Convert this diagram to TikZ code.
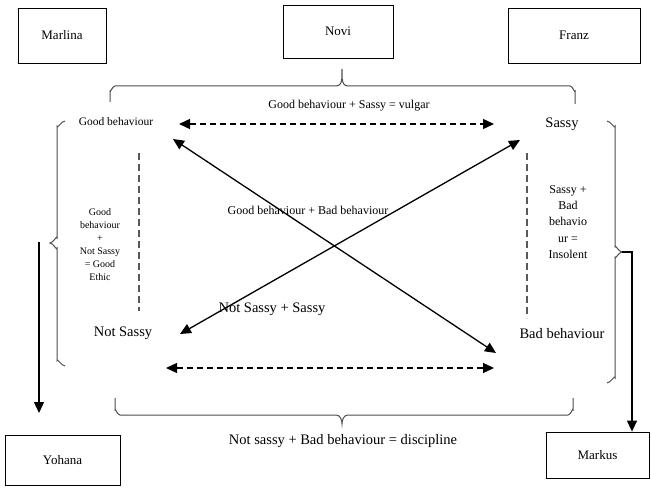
\documentclass[tikz,border=0pt]{standalone}
\usepackage{fontspec}
\setmainfont{Liberation Serif}
\usetikzlibrary{arrows.meta}
\begin{document}
\begin{tikzpicture}[x=1pt,y=-1pt,
  namebox/.style={draw, line width=0.8pt, minimum width=#1, inner sep=0pt, font=\fontsize{13}{15}\selectfont},
  tipstyle/.style={-{Triangle[length=11pt,width=10pt]}},
  dblarrow/.style={{Triangle[length=11pt,width=10pt]}-{Triangle[length=11pt,width=10pt]}, line width=1.3pt},
  dasharrow/.style={dblarrow, dash pattern=on 6pt off 4pt},
  guide/.style={line width=1.2pt, dash pattern=on 7pt off 4pt, gray!70!black},
  bracestyle/.style={line width=1pt, gray!60!black},
  lbl/.style={inner sep=0pt, font=\fontsize{12}{14}\selectfont},
  biglbl/.style={inner sep=0pt, font=\fontsize{14.5}{16}\selectfont},
  smalllbl/.style={inner sep=0pt, font=\fontsize{11.5}{13}\selectfont}
]
\useasboundingbox (0,0) rectangle (651,489);

% name boxes
\node[namebox=88pt, minimum height=55pt] (marlina) at (62,35.5) {Marlina};
\node[namebox=110pt, minimum height=53pt] (novi) at (338,31.5) {Novi};
\node[namebox=132pt, minimum height=55pt] (franz) at (574,35.5) {Franz};
\node[namebox=115pt, minimum height=50pt] (yohana) at (62.5,460) {Yohana};
\node[namebox=103pt, minimum height=46pt] (markus) at (597.5,455) {Markus};

% corner terms
\node[smalllbl] (good) at (116,122) {Good behaviour};
\node[biglbl] (sassy) at (562,124) {Sassy};
\node[biglbl] (notsassy) at (123,333) {Not Sassy};
\node[biglbl] (bad) at (562,334) {Bad behaviour};

% relation labels
\node[lbl] (vulgar) at (349,106) {Good behaviour + Sassy = vulgar};
\node[lbl] (gbbb) at (308,210) {Good behaviour + Bad behaviour};
\node[biglbl] (nss) at (272,309) {Not Sassy + Sassy};
\node[biglbl] (disc) at (343,441) {Not sassy + Bad behaviour = discipline};
\node[inner sep=0pt, align=center, font=\fontsize{10}{13}\selectfont] (ethic) at (100,245)
  {Good\\behaviour\\+\\Not Sassy\\= Good\\Ethic};
\node[inner sep=0pt, align=center, font=\fontsize{12}{16.2}\selectfont] (insolent) at (568,222)
  {Sassy +\\Bad\\behavio\\ur =\\Insolent};

% arrow end points
\coordinate (tl) at (179,124);
\coordinate (tr) at (494,124);
\coordinate (bl) at (166,368);
\coordinate (br) at (494,368);
\coordinate (d1a) at (173,139);
\coordinate (d1b) at (496,353);
\coordinate (d2a) at (180,334);
\coordinate (d2b) at (520,140);

\draw[dasharrow] (tl) -- (tr);
\draw[dasharrow] (bl) -- (br);
\draw[dblarrow] (d1a) -- (d1b);
\draw[dblarrow] (d2a) -- (d2b);

% dashed verticals
\coordinate (lv1) at (139,153);
\coordinate (lv2) at (139,311);
\coordinate (rv1) at (527,153);
\coordinate (rv2) at (527,318);
\draw[guide] (lv1) -- (lv2);
\draw[guide] (rv1) -- (rv2);

% top brace
\draw[bracestyle] (110,102) -- (110,91) to[out=-90,in=180] (115,86) -- (336,86)
  to[out=0,in=-90] (342,69) to[out=-90,in=180] (348,86) -- (570,86)
  to[out=0,in=-90] (575,91) -- (575,104);
% bottom brace
\draw[bracestyle] (115,398) -- (115,410) to[out=90,in=180] (120,415) -- (336,415)
  to[out=0,in=90] (342,424) to[out=90,in=180] (348,415) -- (568,415)
  to[out=0,in=90] (573,410) -- (573,398);
% left brace
\draw[bracestyle] (65,121) to[out=180,in=-90] (57,126) -- (57,238)
  to[out=90,in=0] (50,243) to[out=0,in=-90] (57,248) -- (57,361)
  to[out=90,in=180] (65,366);
% right brace
\coordinate (rb) at (622,252);
\draw[bracestyle] (607,121) to[out=0,in=-90] (615,126) -- (615,247)
  to[out=90,in=180] (rb) to[out=180,in=-90] (615,257) -- (615,378)
  to[out=90,in=0] (607,383);

% arrows to Yohana and Markus
\coordinate (ya) at (39,242);
\coordinate (yb) at (39,413);
\draw[tipstyle, line width=1.3pt] (ya) -- (yb);
\coordinate (mk) at (632,252);
\draw[tipstyle, line width=1.3pt] (rb) -- (mk) -- (mk |- markus.north);
\end{tikzpicture}
\end{document}
